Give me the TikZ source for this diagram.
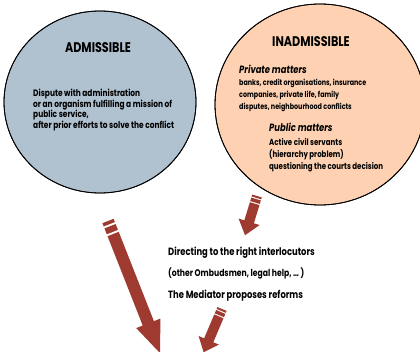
\documentclass[tikz,border=0pt]{standalone}
\usepackage{fontspec}
\setmainfont[FakeStretch=0.8]{Poppins}
\usetikzlibrary{calc}
\definecolor{admfill}{HTML}{B0C1D0}
\definecolor{inafill}{HTML}{FDD1B1}
\definecolor{arrowred}{HTML}{9E3A30}
\tikzset{
  bubble/.style={draw=black, line width=0.8pt},
  title/.style={inner sep=0pt, anchor=base, font=\bfseries\fontsize{14}{16}\selectfont},
  body/.style={inner sep=0pt, anchor=base west, font=\bfseries\fontsize{8}{10}\selectfont},
  bodyl/.style={inner sep=0pt, anchor=base west, font=\bfseries\fontsize{9.3}{11}\selectfont},
  bodyp/.style={inner sep=0pt, anchor=base west, font=\bfseries\fontsize{8.8}{10}\selectfont},
  sub/.style={inner sep=0pt, anchor=base west, font=\bfseries\itshape\fontsize{10.5}{12}\selectfont},
  lower/.style={inner sep=0pt, anchor=base west, font=\bfseries\fontsize{10.5}{12}\selectfont},
  lowers/.style={inner sep=0pt, anchor=base west, font=\bfseries\fontsize{9.6}{11}\selectfont},
}
% #1 tail coordinate, #2 angle, #3 length, #4 shaft half width, #5 head half width, #6 head length, #7 stripe unit
\newcommand\sarrow[7]{%
  \begin{scope}[shift={(#1)}, rotate=#2]
    \fill[arrowred] (0,-#4) rectangle ({#7},#4);
    \fill[arrowred] ({1.6*#7},-#4) rectangle ({3.4*#7},#4);
    \fill[arrowred] ({4*#7},-#4) -- ({#3-#6},-#4) -- ({#3-#6},-#5) -- (#3,0)
      -- ({#3-#6},#5) -- ({#3-#6},#4) -- ({4*#7},#4) -- cycle;
  \end{scope}}
\begin{document}
\begin{tikzpicture}[x=1pt, y=-1pt]
  \useasboundingbox (0,0) rectangle (420,352);
  \clip (0,0) rectangle (420,352);
  \fill[bubble, fill=admfill] (100,102) ellipse [x radius=96, y radius=91];
  \fill[bubble, fill=inafill] (320,104.5) ellipse [x radius=105, y radius=100.5];
  \draw[bubble] (100,102) ellipse [x radius=96, y radius=91];
  \draw[bubble] (320,104.5) ellipse [x radius=105, y radius=100.5];

  \node[title] (adm) at (98,53) {ADMISSIBLE};
  \node[bodyl] (a1) at (33,97) {Dispute with administration};
  \node[bodyl] (a2) at (33,107.5) {or an organism fulfilling a mission of};
  \node[bodyl] (a3) at (33,118) {public service,};
  \node[bodyl] (a4) at (33,128.5) {after prior efforts to solve the conflict};

  \node[title] (inadm) at (311,47) {INADMISSIBLE};
  \node[sub] (priv) at (239,74) {Private matters};
  \node[body] (p1) at (239,86) {banks, credit organisations, insurance};
  \node[body] (p2) at (239,98) {companies, private life, family};
  \node[body] (p3) at (239,110) {disputes, neighbourhood conflicts};
  \node[sub] (pub) at (269,132) {Public matters};
  \node[bodyp] (q1) at (269,146) {Active civil servants};
  \node[bodyp] (q2) at (269,158) {(hierarchy problem)};
  \node[bodyp] (q3) at (269,170) {questioning the courts decision};

  \node[lower] (d1) at (168,256) {Directing to the right interlocutors};
  \node[lowers] (d2) at (168,276.5) {(other Ombudsmen, legal help, … )};
  \node[lower] (d3) at (168,299) {The Mediator proposes reforms};

  \coordinate (t1) at (257,196);
  \coordinate (t2) at (108,221);
  \coordinate (t3) at (222,309);
  \sarrow{t1}{-107}{41}{5}{11}{14}{2}
  \sarrow{t2}{-68.5}{142}{6}{13}{32}{3.5}
  \sarrow{t3}{-113}{47}{5}{11}{13}{2}
\end{tikzpicture}
\end{document}
